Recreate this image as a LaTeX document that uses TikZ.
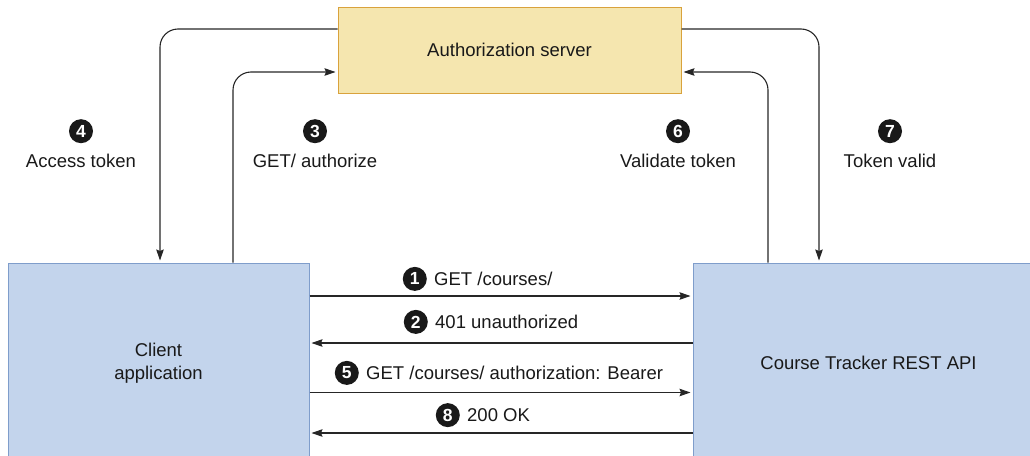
\documentclass[tikz,border=0pt]{standalone}
\usepackage{fontspec}
\setmainfont{Liberation Sans}
\usetikzlibrary{arrows.meta,positioning}
\definecolor{srvfill}{HTML}{F5E6AF}
\definecolor{srvline}{HTML}{D9A23C}
\definecolor{appfill}{HTML}{C3D4EC}
\definecolor{appline}{HTML}{7F9DCB}

\begin{document}
\begin{tikzpicture}[
  x=1pt, y=-1pt, >={Stealth[length=11pt,width=7.5pt,inset=1.5pt]},
  font=\fontsize{18.5}{23}\selectfont, text=black!90,
  srv/.style={draw=srvline, line width=1pt, fill=srvfill, minimum width=343pt, minimum height=86pt},
  app/.style={draw=appline, line width=1pt, fill=appfill, align=center, minimum width=301pt, minimum height=200pt},
  num/.style={circle, fill=black!90, text=white, inner sep=0pt, minimum size=24pt, font=\fontsize{17.5}{17.5}\selectfont\bfseries},
  lbl/.style={inner sep=0pt},
  flow/.style={->, draw=black!85, line width=1.1pt, shorten >=2pt},
  loop/.style={flow, rounded corners=18pt},
]
\useasboundingbox (0,0) rectangle (1030,455);
% the three parties
\node[srv] (auth) at (509.5,50) {Authorization server};
\node[app] (client) at (158.5,363) {Client\\application};
\node[app, minimum width=351pt] (api) at (868.5,363) {Course Tracker REST API};
% levels and columns of the connectors
\coordinate (yhi) at (0,29);
\coordinate (ylo) at (0,72);
\coordinate (x4) at (160,0);
\coordinate (x3) at (233,0);
\coordinate (x6) at (768,0);
\coordinate (x7) at (819,0);
\coordinate (y1) at (0,296);
\coordinate (y2) at (0,343);
\coordinate (y5) at (0,392.5);
\coordinate (y8) at (0,433);
% client <-> authorization server, api <-> authorization server
\draw[loop] (auth.west |- yhi) -| (x4 |- client.north);
\draw[loop] (x3 |- client.north) |- (auth.west |- ylo);
\draw[loop] (x6 |- api.north) |- (auth.east |- ylo);
\draw[loop] (auth.east |- yhi) -| (x7 |- api.north);
\node[lbl, anchor=base] (t4) at (81,167) {Access token};
\node[num, above=10pt of t4] (n4) {4};
\node[lbl, anchor=base] (t3) at (315,167) {GET/ authorize};
\node[num, above=10pt of t3] (n3) {3};
\node[lbl, anchor=base] (t6) at (678,167) {Validate token};
\node[num, above=10pt of t6] (n6) {6};
\node[lbl, anchor=base] (t7) at (890,167) {Token valid};
\node[num, above=10pt of t7] (n7) {7};
% client <-> api requests
\draw[flow] (client.east |- y1) -- (api.west |- y1);
\draw[flow] (api.west |- y2) -- (client.east |- y2);
\draw[flow] (client.east |- y5) -- (api.west |- y5);
\draw[flow] (api.west |- y8) -- (client.east |- y8);
\node[lbl, anchor=base west] (t1) at (434,285.5) {GET /courses/};
\node[num, left=7pt of t1] (n1) {1};
\node[lbl, anchor=base west] (t2) at (435,328.5) {401 unauthorized};
\node[num, left=7pt of t2] (n2) {2};
\node[lbl, anchor=base west] (t5) at (366,379.5) {GET /courses/ authorization: Bearer};
\node[num, left=7pt of t5] (n5) {5};
\node[lbl, anchor=base west] (t8) at (467,421.5) {200 OK};
\node[num, left=7pt of t8] (n8) {8};
\end{tikzpicture}
\end{document}
